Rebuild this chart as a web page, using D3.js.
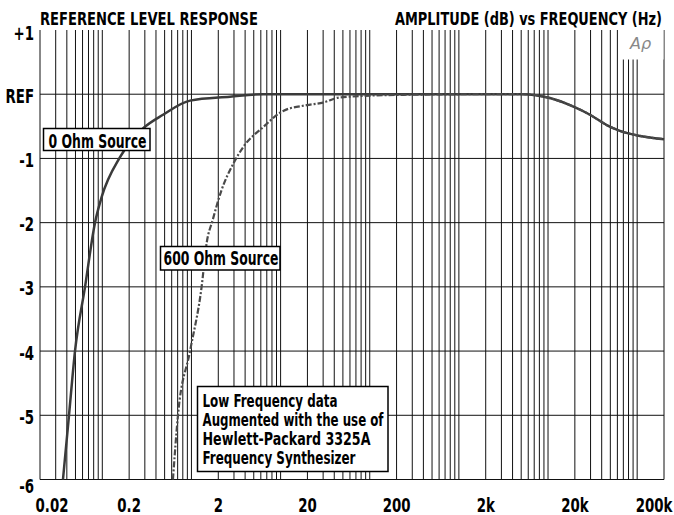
<!DOCTYPE html>
<html>
<head>
<meta charset="utf-8">
<script src="https://cdn.jsdelivr.net/npm/d3@7"></script>
<style>
  body { margin: 0; background: #fff; }
  svg { display: block; }
  text { font-family: 'Liberation Sans Narrow', 'DejaVu Sans Condensed', 'Arial Narrow', sans-serif; font-weight: bold; fill: #000; }
</style>
</head>
<body>
<svg width="674" height="515"></svg>
<script>
// ---- data (frequency in Hz, level in dB re REF) ----
var freq0 = [0.0362, 0.0423, 0.0494, 0.064, 0.0828, 0.0984, 0.158, 0.288, 0.48, 0.964, 2.7, 6.4, 20, 200, 2000, 5200, 10500, 19000, 29600, 45500, 64000, 108000, 200000];
var db0   = [-6, -5, -4, -3, -2, -1.6, -0.98, -0.53, -0.32, -0.10, -0.04, 0, 0, 0, 0, 0, -0.06, -0.19, -0.32, -0.48, -0.57, -0.65, -0.70];

var freq600 = [0.62, 0.706, 0.964, 1.30, 1.48, 1.73, 2.18, 2.95, 3.82, 6.4, 10.7, 19.6, 30, 46, 219, 2000, 5200, 10500, 19000, 29600, 45500, 64000, 108000, 200000];
var db600   = [-6, -5, -4, -3, -2.32, -1.96, -1.49, -1.08, -0.82, -0.51, -0.26, -0.17, -0.13, -0.05, -0.01, 0, 0, -0.06, -0.19, -0.32, -0.48, -0.57, -0.65, -0.70];

var xTickValues = [0.02, 0.2, 2, 20, 200, 2000, 20000, 200000];
var xTickLabels = ["0.02", "0.2", "2", "20", "200", "2k", "20k", "200k"];
var yTickValues = [1, 0, -1, -2, -3, -4, -5, -6];
var yTickLabels = ["+1", "REF", "-1", "-2", "-3", "-4", "-5", "-6"];

var noteLines = ["Low Frequency data", "Augmented with the use of", "Hewlett-Packard 3325A", "Frequency Synthesizer"];

var svg = d3.select("svg");
var pLeft = 40, pRight = 664, pTop = 30, pBottom = 479.5;

var x = d3.scaleLog().domain([0.02, 200000]).range([pLeft, pRight]);
var y = d3.scaleLinear().domain([-6, 1]).range([pBottom, pTop]);

// squeeze text horizontally to look like a condensed face
function condense(sel, k) {
  sel.each(function() {
    var len = this.getComputedTextLength();
    d3.select(this).attr("textLength", len * k).attr("lengthAdjust", "spacingAndGlyphs");
  });
}

// grid
var grid = svg.append("g");
grid.selectAll("line.v")
  .data(x.ticks())
  .enter().append("line")
    .attr("class", "v")
    .attr("x1", function(d) { return x(d); })
    .attr("x2", function(d) { return x(d); })
    .attr("y1", pTop)
    .attr("y2", pBottom)
    .attr("stroke", "#111")
    .attr("stroke-width", 1);

grid.selectAll("line.h")
  .data(d3.range(-6, 1))
  .enter().append("line")
    .attr("class", "h")
    .attr("x1", pLeft)
    .attr("x2", pRight)
    .attr("y1", function(d) { return y(d); })
    .attr("y2", function(d) { return y(d); })
    .attr("stroke", "#111")
    .attr("stroke-width", 1);

// Ap logo box
svg.append("rect")
  .attr("x", 619.5).attr("y", pTop).attr("width", 44).attr("height", 29.5)
  .attr("fill", "#fff");
svg.append("text")
  .attr("x", 630).attr("y", 49)
  .style("font-family", "'DejaVu Sans', sans-serif")
  .style("font-weight", "normal")
  .style("font-style", "italic")
  .style("font-size", "16px")
  .style("fill", "#888")
  .text("Aρ");

// curves
var line = d3.line()
  .x(function(d) { return x(d[0]); })
  .y(function(d) { return y(d[1]); })
  .curve(d3.curveMonotoneX);

svg.append("path")
  .datum(d3.zip(freq0, db0))
  .attr("d", line)
  .attr("fill", "none")
  .attr("stroke", "#3a3a3a")
  .attr("stroke-width", 2.5);

svg.append("path")
  .datum(d3.zip(freq600, db600))
  .attr("d", line)
  .attr("fill", "none")
  .attr("stroke", "#4a4a4a")
  .attr("stroke-width", 2.2)
  .attr("stroke-dasharray", "6,2,2,2");

// axis labels
svg.selectAll("text.ylab")
  .data(yTickValues)
  .enter().append("text")
    .attr("class", "ylab")
    .attr("x", 34)
    .attr("y", function(d, i) { return y(d) + (i == 0 ? 10 : i == yTickValues.length - 1 ? 13.5 : 8.5); })
    .attr("text-anchor", "end")
    .style("font-size", "19px")
    .text(function(d, i) { return yTickLabels[i]; })
    .call(condense, 0.78);

svg.selectAll("text.xlab")
  .data(xTickValues)
  .enter().append("text")
    .attr("class", "xlab")
    .attr("x", function(d) { return Math.max(52, Math.min(654, x(d))); })
    .attr("y", 512)
    .attr("text-anchor", "middle")
    .style("font-size", "19px")
    .text(function(d, i) { return xTickLabels[i]; })
    .call(condense, 0.78);

// titles
svg.append("text")
  .attr("x", 40).attr("y", 25)
  .attr("textLength", 218).attr("lengthAdjust", "spacingAndGlyphs")
  .style("font-size", "18px")
  .text("REFERENCE LEVEL RESPONSE");

svg.append("text")
  .attr("x", 395).attr("y", 25)
  .attr("textLength", 267).attr("lengthAdjust", "spacingAndGlyphs")
  .style("font-size", "18px")
  .text("AMPLITUDE (dB) vs FREQUENCY (Hz)");

// annotation boxes
function labelBox(x0, y0, w, h, lines, tx, ty, lh, widths, size) {
  var g = svg.append("g");
  g.append("rect")
    .attr("x", x0).attr("y", y0).attr("width", w).attr("height", h)
    .attr("fill", "#fff").attr("stroke", "#000").attr("stroke-width", 1.5);
  g.selectAll("text")
    .data(lines)
    .enter().append("text")
      .attr("x", tx)
      .attr("y", function(d, i) { return ty + i * lh; })
      .attr("textLength", function(d, i) { return widths[i]; })
      .attr("lengthAdjust", "spacingAndGlyphs")
      .style("font-size", size)
      .style("font-weight", "600")
      .text(function(d) { return d; });
}

labelBox(43.5, 128.5, 106.5, 22, ["0 Ohm Source"], 48.5, 147.5, 0, [98], "19px");
labelBox(160.5, 246.5, 119.5, 23.5, ["600 Ohm Source"], 163.5, 265, 0, [115], "19px");
labelBox(197.5, 386.5, 190.5, 85, noteLines, 202.5, 406.5, 19, [135, 181, 168, 153], "18px");
</script>
</body>
</html>
